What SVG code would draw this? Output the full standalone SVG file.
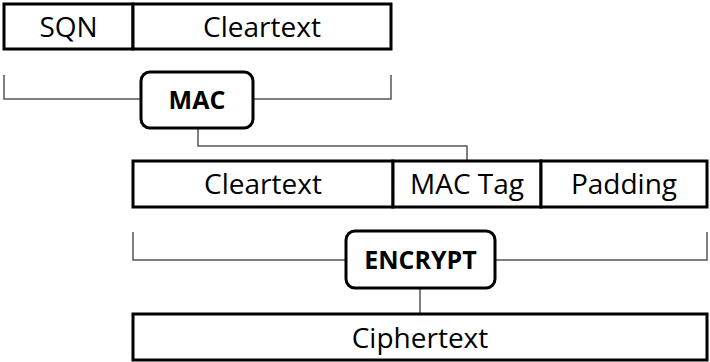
<svg xmlns="http://www.w3.org/2000/svg" width="710" height="362" viewBox="0 0 710 362">
<style>
.box{fill:#fff;stroke:#000;stroke-width:3}
.op{fill:#fff;stroke:#000;stroke-width:3}
.conn{fill:none;stroke:#555;stroke-width:1.5}
.t{font-family:"Open Sans","Liberation Sans",sans-serif;font-size:28px;fill:#000;text-anchor:middle}
.b{font-family:"Open Sans","Liberation Sans",sans-serif;font-size:25px;font-weight:bold;fill:#000;text-anchor:middle}
</style>
<rect width="710" height="362" fill="#fff"/>
<g id="connectors">
<path class="conn" d="M4,75 V99 H141"/>
<path class="conn" d="M253,99 H391 V75"/>
<path class="conn" d="M198,128 V146 H467 V161"/>
<path class="conn" d="M133,232 V260 H346"/>
<path class="conn" d="M495,260 H707 V232"/>
<path class="conn" d="M420,288 V314"/>
</g>
<g id="sqn">
<rect class="box" x="4" y="4" width="129" height="45"/>
<text class="t" x="68.5" y="36.5">SQN</text>
</g>
<g id="cleartext1">
<rect class="box" x="133" y="4" width="258" height="45"/>
<text class="t" x="262" y="36.5">Cleartext</text>
</g>
<g id="mac">
<rect class="op" x="141" y="72" width="112" height="56" rx="9"/>
<text class="b" x="197" y="109">MAC</text>
</g>
<g id="cleartext2">
<rect class="box" x="133" y="161" width="260" height="46"/>
<text class="t" x="263" y="194">Cleartext</text>
</g>
<g id="mactag">
<rect class="box" x="393" y="161" width="148" height="46"/>
<text class="t" x="467" y="194">MAC Tag</text>
</g>
<g id="padding">
<rect class="box" x="541" y="161" width="166" height="46"/>
<text class="t" x="624" y="194">Padding</text>
</g>
<g id="encrypt">
<rect class="op" x="346" y="231" width="149" height="57" rx="9"/>
<text class="b" x="420.5" y="268.5">ENCRYPT</text>
</g>
<g id="ciphertext">
<rect class="box" x="133" y="314" width="574" height="46"/>
<text class="t" x="420" y="347.5">Ciphertext</text>
</g>
</svg>
